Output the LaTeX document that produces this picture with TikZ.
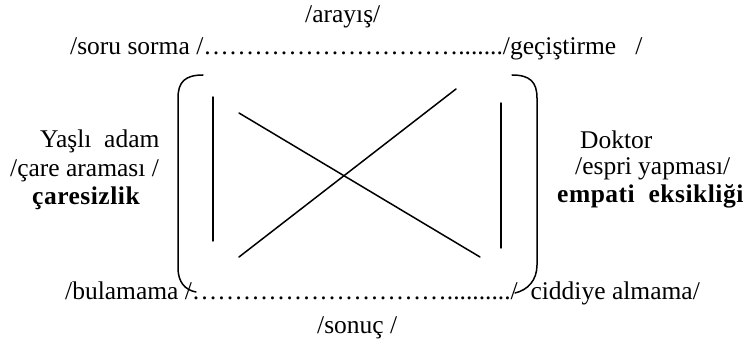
\documentclass[tikz,border=0pt]{standalone}
\usepackage{fontspec}
\setmainfont{Liberation Serif}
\newcommand{\eex}{…}
\begin{document}
\begin{tikzpicture}[x=1pt,y=-1pt,
  lbl/.style={inner sep=0pt,anchor=base west,font=\fontsize{25.5}{30}\selectfont},
  blbl/.style={inner sep=0pt,anchor=base west,font=\fontsize{25.5}{30}\selectfont\bfseries\addfontfeature{LetterSpace=2}},
  ln/.style={line width=1.5pt,line cap=round}]
\useasboundingbox (0,0) rectangle (750,339);
% texts
\node[lbl] (aray) at (305,23) {/arayış/};
\node[lbl] (top) at (70,55) {/soru sorma /\eex\eex\eex\eex\eex\eex\eex\eex\eex\eex......./geçiştirme\ \ \ /};
\node[lbl] (yasli) at (40,148) {Yaşlı\ \ adam};
\node[lbl] (care) at (10,177) {/çare araması /};
\node[blbl] (caresiz) at (32,205) {çaresizlik};
\node[lbl] (doktor) at (580,149) {Doktor};
\node[lbl] (espri) at (575,175) {/espri yapması/};
\node[blbl] (empati) at (557,203) {empati\ \ eksikliği};
\node[lbl] (bottom) at (65,300) {/bulamama /\eex\eex\eex\eex\eex\eex\eex\eex\eex\eex........../\ \ ciddiye almama/};
\node[lbl] (sonuc) at (317,333) {/sonuç /};
% brackets
\coordinate (lbt) at (203,75);
\coordinate (lbb) at (196,292);
\coordinate (rbt) at (512,75);
\coordinate (rbb) at (515,293);
\draw[ln] (lbt) .. controls (185,75) and (178,82) .. (178,98) -- (178,268) .. controls (178,282) and (185,290) .. (lbb);
\draw[ln] (rbt) .. controls (530,75) and (537,82) .. (537,98) -- (537,265) .. controls (537,280) and (528,290) .. (rbb);
% inner lines
\coordinate (lvt) at (213,97);
\coordinate (lvb) at (213,241);
\coordinate (rvt) at (501,103);
\coordinate (rvb) at (501,248);
\coordinate (d1) at (239,113);
\coordinate (d2) at (480,257);
\coordinate (a1) at (239,257);
\coordinate (a2) at (456,89);
\draw[ln] (lvt) -- (lvb);
\draw[ln] (rvt) -- (rvb);
\draw[ln] (d1) -- (d2);
\draw[ln] (a1) -- (a2);
\end{tikzpicture}
\end{document}
